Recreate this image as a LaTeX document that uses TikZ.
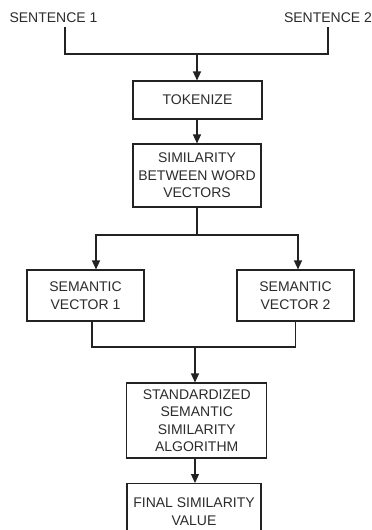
\documentclass[tikz,border=0pt]{standalone}
\usepackage{fontspec}
\setmainfont{Liberation Sans}
\usetikzlibrary{arrows.meta,calc}
\definecolor{ink}{HTML}{222222}
\definecolor{txt}{HTML}{2B2B2B}
\tikzset{
  stepbox/.style={draw=ink, line width=1.1pt, align=center, inner sep=0pt,
    text=txt, font=\fontsize{14}{17.5}\selectfont},
  label text/.style={text=txt, font=\fontsize{14}{17}\selectfont,
    inner xsep=0pt, inner ysep=5pt, text height=10pt, text depth=0pt},
  wire/.style={draw=ink, line width=1.1pt},
  flow/.style={wire, -{Triangle[width=8pt,length=9pt]}},
}
\begin{document}
\begin{tikzpicture}[x=1pt, y=-1pt]
  \useasboundingbox (0,0) rectangle (372,530);
  \clip (0,0) rectangle (372,530);

  % inputs
  \node[label text] (s1) at (53.5,17) {SENTENCE 1};
  \node[label text] (s2) at (328,17) {SENTENCE 2};

  % processing steps
  \node[stepbox, minimum width=129pt, minimum height=38pt] (tok) at (197.5,100) {TOKENIZE};
  \node[stepbox, minimum width=128pt, minimum height=63pt] (sim) at (197,175.5)
    {SIMILARITY\\BETWEEN WORD\\VECTORS};
  \node[stepbox, minimum width=117pt, minimum height=51pt] (sv1) at (85.5,295.5)
    {SEMANTIC\\VECTOR 1};
  \node[stepbox, minimum width=117pt, minimum height=51pt] (sv2) at (295.5,295.5)
    {SEMANTIC\\VECTOR 2};
  \node[stepbox, minimum width=140pt, minimum height=75pt] (std) at (196.7,420.5)
    {STANDARDIZED\\SEMANTIC\\SIMILARITY\\ALGORITHM};
  \node[stepbox, minimum width=134pt, minimum height=56pt, anchor=north] (fin) at (194,483)
    {\raisebox{0pt}[10pt][0pt]{FINAL SIMILARITY}\\VALUE};

  % junction points
  \coordinate (j1) at (197,54);
  \coordinate (j2) at (197,235);
  \coordinate (j3) at (195,347);

  % merge of the two sentences
  \draw[wire] ([xshift=11.5pt]s1.south) |- (j1);
  \draw[wire] (s2.south) |- (j1);
  \draw[flow] (j1) -- (tok.north -| j1);

  \draw[flow] (tok.south -| j1) -- (sim.north -| j1);

  % split into two semantic vectors
  \draw[wire] (sim.south -| j2) -- (j2);
  \draw[flow] (j2) -| ([xshift=10.5pt]sv1.north);
  \draw[flow] (j2) -| ([xshift=2.5pt]sv2.north);

  % merge of the semantic vectors
  \draw[wire] ([xshift=6.5pt]sv1.south) |- (j3);
  \draw[wire] (sv2.south) |- (j3);
  \draw[flow] (j3) -- (std.north -| j3);

  \draw[flow] (std.south -| j3) -- (fin.north -| j3);
\end{tikzpicture}
\end{document}
